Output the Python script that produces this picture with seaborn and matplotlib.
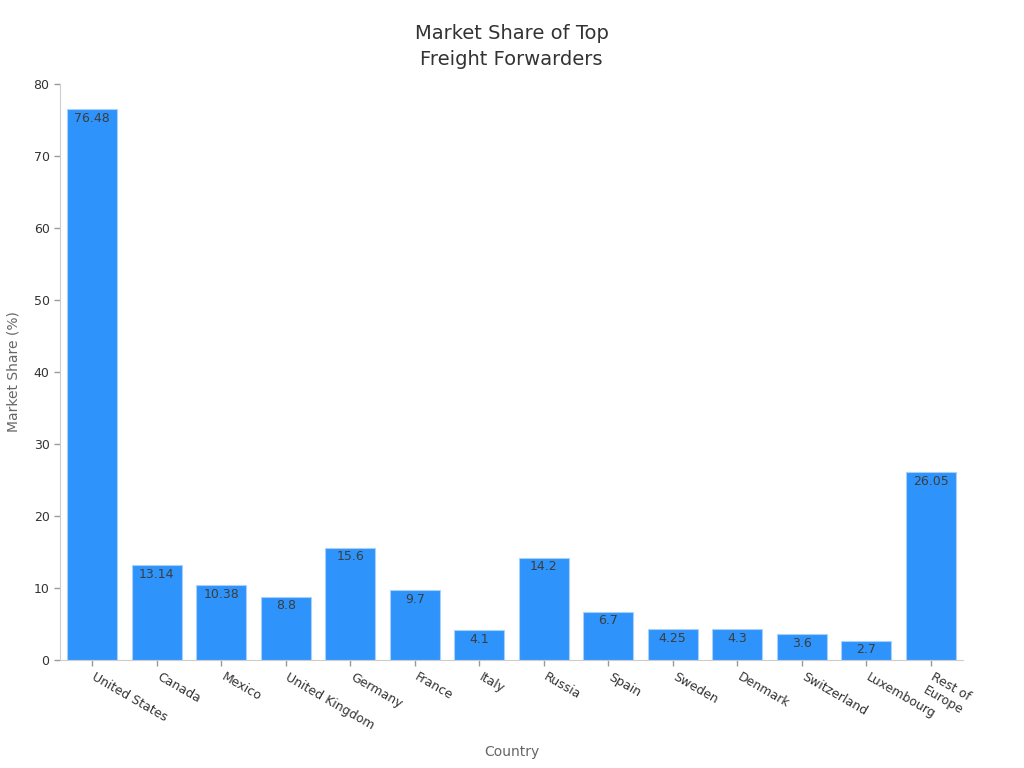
import pandas as pd
import matplotlib
matplotlib.use('Agg')
import matplotlib.pyplot as plt
import matplotlib.transforms as mtransforms
import seaborn as sns

# Dados do grafico
paises = ['United States', 'Canada', 'Mexico', 'United Kingdom', 'Germany', 'France',
          'Italy', 'Russia', 'Spain', 'Sweden', 'Denmark', 'Switzerland', 'Luxembourg',
          'Rest of\nEurope']
market_share = [76.48, 13.14, 10.38, 8.8, 15.6, 9.7, 4.1, 14.2, 6.7, 4.25, 4.3, 3.6, 2.7, 26.05]
rotulos = ['76.48', '13.14', '10.38', '8.8', '15.6', '9.7', '4.1', '14.2', '6.7', '4.25',
           '4.3', '3.6', '2.7', '26.05']
y_ticks = [0, 10, 20, 30, 40, 50, 60, 70, 80]

df = pd.DataFrame({'Country': paises, 'Market Share (%)': market_share})

sns.set_style('white')
plt.rcParams['font.family'] = ['DejaVu Sans']

fig = plt.figure(figsize=(10.24, 7.68), dpi=100)
ax = fig.add_axes([0.0586, 0.1406, 0.8818, 0.75])

sns.barplot(data=df, x='Country', y='Market Share (%)', color='#2E93FA',
            saturation=1, width=0.78, edgecolor='#a9d0fb', linewidth=0.8, ax=ax)

# Rotulos dentro das barras
for i, (v, r) in enumerate(zip(market_share, rotulos)):
    ax.text(i, v - 1.25, r, ha='center', va='center', fontsize=9, color='#3d3d3d')

ax.set_xlim(-0.5, 13.5)
ax.set_ylim(0, 80)
ax.set_yticks(y_ticks)
ax.tick_params(axis='both', colors='#999999', labelcolor='#333333', labelsize=9,
               length=4, width=1, direction='out', left=True, bottom=True)
# rotacao dos nomes dos paises, com leve deslocamento para a direita
desloc = mtransforms.ScaledTranslation(3 / 72, 0, fig.dpi_scale_trans)
for lbl in ax.get_xticklabels():
    lbl.set_rotation(-30)
    lbl.set_ha('left')
    lbl.set_rotation_mode('anchor')
    lbl.set_transform(lbl.get_transform() + desloc)

for s in ['top', 'right']:
    ax.spines[s].set_visible(False)
for s in ['left', 'bottom']:
    ax.spines[s].set_color('#cccccc')

ax.set_xlabel('Country', fontsize=10, color='#666666')
ax.xaxis.set_label_coords(0.5, -0.148)
ax.set_ylabel('Market Share (%)', fontsize=10, color='#666666')
ax.yaxis.set_label_coords(-0.044, 0.5)
ax.set_title('Market Share of Top\nFreight Forwarders', fontsize=14, color='#333333',
             pad=14, linespacing=1.45)

fig.savefig('out.png', dpi=100)
